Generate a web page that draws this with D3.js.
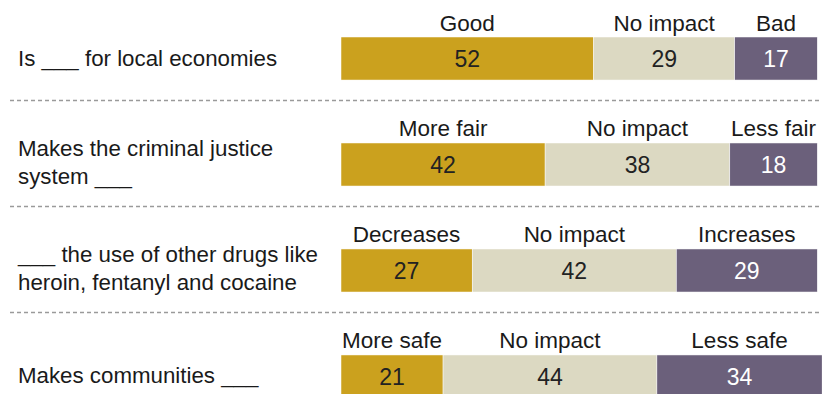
<!DOCTYPE html>
<html>
<head>
<meta charset="utf-8">
<script src="https://cdn.jsdelivr.net/npm/d3@7"></script>
<style>
  body { margin: 0; background: #fff; }
  text { font-family: "Liberation Sans", Arial, sans-serif; }
</style>
</head>
<body>
<svg id="chart" width="822" height="394"></svg>
<script>
const WIDTH = 822
const HEIGHT = 394

// one row per question
const questions = [
  ['Is ___ for local economies'],
  ['Makes the criminal justice', 'system ___'],
  ['___ the use of other drugs like', 'heroin, fentanyl and cocaine'],
  ['Makes communities ___']
]
const positiveLabels = ['Good', 'More fair', 'Decreases', 'More safe']
const neutralLabels = ['No impact', 'No impact', 'No impact', 'No impact']
const negativeLabels = ['Bad', 'Less fair', 'Increases', 'Less safe']

const positive = [52, 42, 27, 21]
const neutral = [29, 38, 42, 44]
const negative = [17, 18, 29, 34]

const COLORS = ['#cba11e', '#dcd9c2', '#6b607b']
const NUM_COLORS = ['#222', '#222', '#fff']

const rows = questions.map((q, i) => ({
  id: i,
  label: q,
  segs: [
    { name: positiveLabels[i], value: positive[i] },
    { name: neutralLabels[i], value: neutral[i] },
    { name: negativeLabels[i], value: negative[i] }
  ]
}))
rows.forEach(r => {
  let acc = 0
  r.segs.forEach((s, k) => { s.x0 = acc; acc += s.value; s.x1 = acc; s.k = k })
})

const svg = d3.select('#chart')

const x = d3.scaleLinear().domain([0, 100]).range([341, 827])
const y = d3.scaleBand()
  .domain(rows.map(r => r.id))
  .range([37, 398])
  .paddingInner(0.594)
  .paddingOuter(0)

const bw = y.bandwidth()

// dotted separators
svg.selectAll('line.sep')
  .data(rows.slice(0, -1))
  .join('line')
  .attr('class', 'sep')
  .attr('x1', 10).attr('x2', WIDTH)
  .attr('y1', d => y(d.id) + bw + 20.5)
  .attr('y2', d => y(d.id) + bw + 20.5)
  .attr('stroke', '#9a9a9a')
  .attr('stroke-width', 1.5)
  .attr('stroke-dasharray', '4,3')

const row = svg.selectAll('g.row')
  .data(rows)
  .join('g')
  .attr('class', 'row')
  .attr('transform', d => `translate(0,${y(d.id)})`)

// question labels
row.append('text')
  .attr('x', 18)
  .attr('font-size', 22.3)
  .attr('fill', '#1a1a1a')
  .selectAll('tspan')
  .data(d => d.label.map((t, j) => ({ t, j, n: d.label.length })))
  .join('tspan')
  .attr('x', 18)
  .attr('y', d => d.n === 1 ? bw / 2 + 7 : bw / 2 - 8.5 + d.j * 28)
  .text(d => d.t)

const seg = row.selectAll('g.seg')
  .data(d => d.segs)
  .join('g')
  .attr('class', 'seg')

seg.append('rect')
  .attr('x', d => x(d.x0))
  .attr('width', d => x(d.x1) - x(d.x0))
  .attr('y', 0)
  .attr('height', bw)
  .attr('fill', d => COLORS[d.k])
  .attr('stroke', '#fff')
  .attr('stroke-width', 0.5)

seg.append('text')
  .attr('x', d => (x(d.x0) + x(d.x1)) / 2)
  .attr('y', bw / 2 + 8.5)
  .attr('text-anchor', 'middle')
  .attr('font-size', 23)
  .attr('fill', d => NUM_COLORS[d.k])
  .text(d => d.value)

seg.append('text')
  .attr('x', d => (x(d.x0) + x(d.x1)) / 2)
  .attr('y', -6.5)
  .attr('text-anchor', 'middle')
  .attr('font-size', 22.5)
  .attr('fill', '#1a1a1a')
  .text(d => d.name)
</script>
</body>
</html>
